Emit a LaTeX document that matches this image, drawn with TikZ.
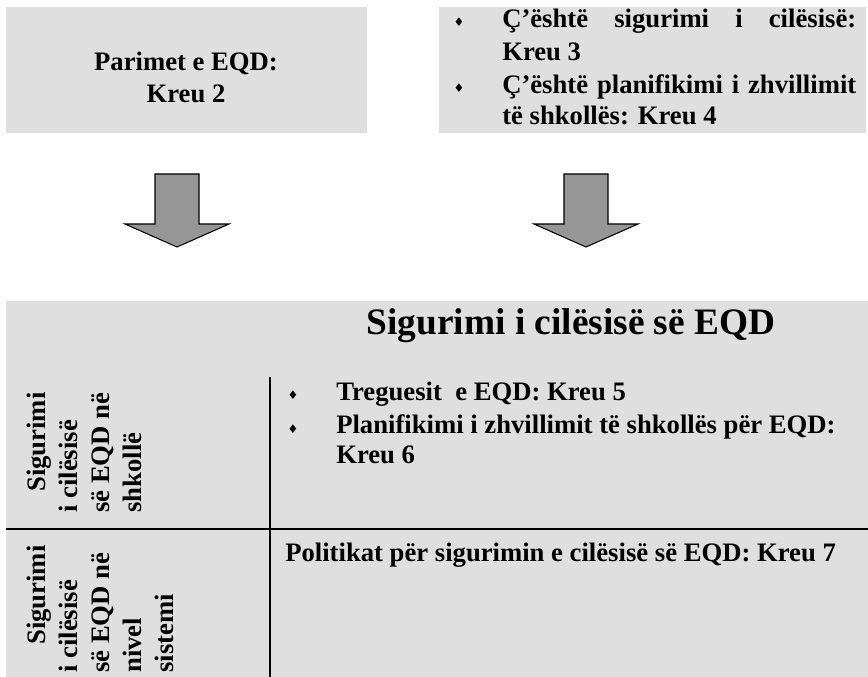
\documentclass[tikz,border=0pt]{standalone}
\usepackage{fontspec}
\setmainfont{Liberation Serif}
\newfontfamily\symfont{DejaVu Sans}
\usetikzlibrary{positioning}
\definecolor{boxgray}{HTML}{DFDFDF}
\definecolor{arrowgray}{HTML}{969696}
\newcommand{\wide}[1]{\makebox[265.5pt][s]{#1}}
\begin{document}
\begin{tikzpicture}[x=0.75pt,y=-0.75pt,
    txt/.style={inner sep=0pt,font=\fontsize{20}{24}\selectfont\bfseries},
    bul/.style={inner sep=0pt,font=\fontsize{9}{9}\selectfont\symfont},
    blockarrow/.style={draw=black,line width=0.8pt,fill=arrowgray,line join=miter},
    rule/.style={line width=1.6pt}]
    \useasboundingbox (0,0) rectangle (868,677);

    % boxes
    \fill[boxgray] (6,7) rectangle (367,133);
    \fill[boxgray] (439,7) rectangle (866,133);
    \fill[boxgray] (6,301) rectangle (868,677);

    % top left
    \node[txt,align=center] (parimet) at (186,77) {Parimet e EQD:\\Kreu 2};

    % top right
    \node[bul,anchor=base] (b1) at (459,27) {♦};
    \node[txt,anchor=base west] (cka1) at (502,28) {\wide{Ç’është sigurimi i cilësisë:}};
    \node[txt,anchor=base west] (kreu3) at (502,61) {Kreu 3};
    \node[bul,anchor=base] (b2) at (459,93) {♦};
    \node[txt,anchor=base west] (cka2) at (502,94) {\wide{Ç’është planifikimi i zhvillimit}};
    \node[txt,anchor=base west] (kreu4) at (502,125) {të shkollës: Kreu 4};

    % arrows
    \foreach \cx in {177,586}
        \draw[blockarrow] (\cx-22,174) -- (\cx+22,174) -- (\cx+22,224) -- (\cx+52,224)
            -- (\cx,247) -- (\cx-52,224) -- (\cx-22,224) -- cycle;

    % bottom table
    \node[txt,font=\fontsize{28}{32}\selectfont\bfseries,anchor=base] (title) at (571,335) {Sigurimi i cilësisë së EQD};
    \coordinate (vtop) at (270,377);
    \coordinate (vbot) at (270,677);
    \coordinate (hleft) at (6,529);
    \coordinate (hright) at (868,529);
    \draw[rule] (vtop) -- (vbot);
    \draw[rule] (hleft) -- (hright);

    \node[txt,rotate=90,align=left,anchor=north west] (shkolle) at (27,513)
        {\hspace*{15.75pt}Sigurimi\\i cilësisë\\së EQD në\\shkollë};
    \node[txt,rotate=90,align=left,anchor=north west] (sistemi) at (27,673)
        {\hspace*{21pt}Sigurimi\\i cilësisë\\së EQD në\\nivel\\sistemi};

    \node[bul,anchor=base] (b3) at (293,400) {♦};
    \node[txt,anchor=base west] (tregues) at (336,401) {Treguesit\ \ e EQD: Kreu 5};
    \node[bul,anchor=base] (b4) at (293,433) {♦};
    \node[txt,anchor=base west] (planif) at (336,434) {Planifikimi i zhvillimit të shkollës për EQD:};
    \node[txt,anchor=base west] (kreu6) at (336,464) {Kreu 6};

    \node[txt,anchor=base west] (politikat) at (285,561) {Politikat për sigurimin e cilësisë së EQD: Kreu 7};
\end{tikzpicture}
\end{document}
